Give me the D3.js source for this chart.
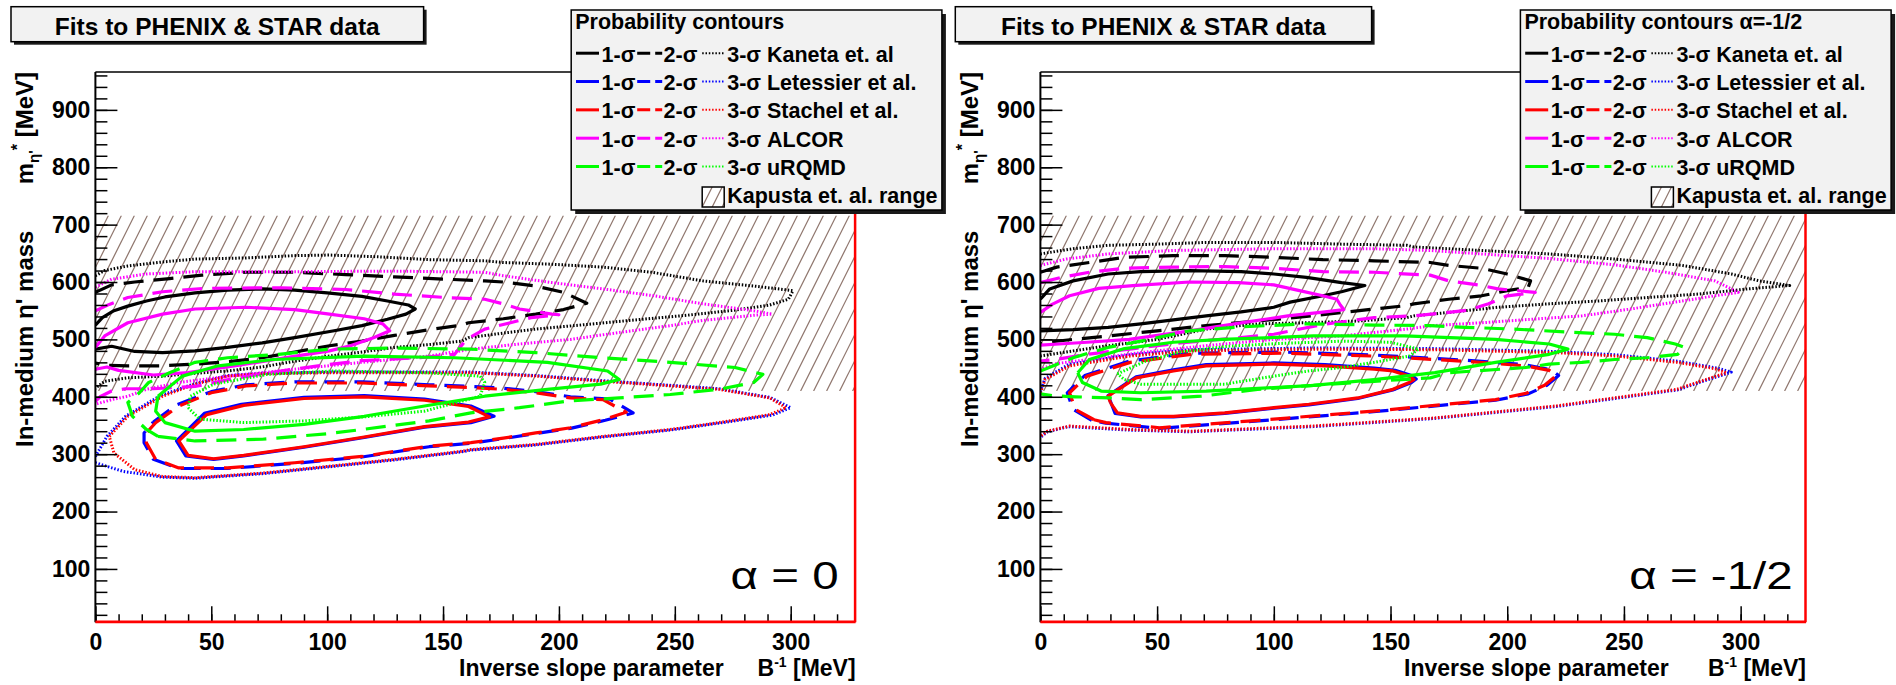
<!DOCTYPE html>
<html>
<head>
<meta charset="utf-8">
<script src="https://cdn.jsdelivr.net/npm/d3@7"></script>
<style>
  body { margin: 0; background: #fff; }
  text { font-family: "Liberation Sans", Arial, Helvetica, sans-serif; }
</style>
</head>
<body>
<svg id="chart" width="1896" height="685"></svg>
<script>
// ---- axes ----
const xDomain = [0, 328];
const yDomain = [7, 966];
const xMajorTicks = [0, 50, 100, 150, 200, 250, 300];
const xMinorTicks = d3.range(0, 330, 10);
const yMajorTicks = [100, 200, 300, 400, 500, 600, 700, 800, 900];
const yMinorTicks = d3.range(20, 966, 20);
const kapustaRange = [410, 716];

// ---- legend ----
const models = ["Kaneta et. al", "Letessier et al.", "Stachel et al.", "ALCOR", "uRQMD"];
const modelColors = ["#000000", "#0000ff", "#ff0000", "#ff00ff", "#00ff00"];
const sigmaLabels = ["1-σ", "2-σ", "3-σ"];

// ---- contours, alpha = 0 : points are [B^-1 (MeV), m* (MeV)] ----
const a0_kaneta_1s = [[0,525],[3,538],[8,550],[14,558],[22,567],[30,574],[43,581],[57,586],[72,588],[86,586],[100,581],[115,575],[126,567],[135,560],[138,553],[134,544],[126,535],[115,524],[103,515],[86,503],[72,494],[57,486],[43,480],[29,477],[17,479],[7,488],[0,483]];
const a0_kaneta_2s = [[0,582],[7,595],[17,600],[32,606],[46,612],[65,617],[86,617],[108,613],[129,609],[151,605],[168,602],[176,600],[190,593],[202,582],[212,563],[202,552],[190,544],[176,536],[161,529],[158,525],[144,517],[129,507],[115,497],[101,489],[86,478],[72,468],[57,461],[43,457],[29,454],[14,454],[4,455],[0,459]];
const a0_kaneta_3s = [[0,611],[4,620],[14,628],[29,635],[43,640],[65,642],[86,646],[101,647],[122,644],[144,639],[168,637],[176,634],[197,631],[219,626],[240,617],[262,602],[284,593],[301,585],[299,570],[291,560],[276,551],[255,542],[233,534],[212,526],[190,518],[176,511],[161,503],[158,497],[144,491],[129,486],[115,478],[101,471],[86,462],[72,452],[57,445],[43,441],[29,436],[14,433],[4,427],[0,415]];

const a0_letessier_1s = [[37,331],[47,371],[63,387],[90,399],[116,402],[142,396],[162,384],[172,366],[162,355],[142,347],[116,329],[90,312],[64,297],[51,291],[39,297],[35,323],[37,331]];
const a0_letessier_2s = [[25,356],[35,386],[50,409],[65,421],[86,426],[115,426],[144,421],[162,418],[176,415],[190,409],[205,400],[222,396],[232,372],[220,359],[205,345],[190,336],[176,327],[162,319],[144,313],[115,295],[86,284],[57,275],[36,275],[25,291],[21,320],[21,337],[25,356]];
const a0_letessier_3s = [[0,296],[5,331],[13,366],[28,402],[43,423],[57,437],[72,441],[101,443],[144,443],[162,443],[190,437],[219,428],[248,420],[269,414],[291,399],[300,381],[292,368],[269,354],[248,342],[219,330],[190,316],[162,307],[158,304],[129,290],[101,278],[72,266],[43,258],[29,260],[12,270],[4,280],[0,285]];

const a0_stachel_1s = [[37.5,329],[48,369],[64,385],[90,397],[116,400],[142,394],[161,383],[170,365],[161,356],[142,348],[116,330],[90,313],[64,298],[51,292],[40,298],[36,323],[37.5,329]];
const a0_stachel_2s = [[26,355],[36,384],[50,407],[65,419],[86,424],[115,424],[144,419],[162,416],[176,413],[190,407],[205,398],[219,395],[229,373],[219,360],[205,346],[190,337],[176,328],[162,320],[144,314],[115,296],[86,285],[57,276],[36,276],[26,291],[22,320],[22,337],[26,355]];
const a0_stachel_3s = [[6,331],[14,366],[29,401],[43,422],[57,436],[72,440],[101,442],[144,442],[162,442],[190,436],[219,427],[248,419],[269,413],[291,398],[298,381],[291,369],[269,355],[248,343],[219,331],[190,317],[162,308],[158,305],[129,291],[101,279],[72,267],[43,259],[29,261],[17,273],[8,302],[6,331]];

const a0_alcor_1s = [[0,486],[4,506],[14,529],[29,544],[43,553],[65,556],[86,552],[101,544],[116,536],[124,527],[127,515],[120,503],[110,489],[101,480],[85,470],[62,455],[40,442],[25,438],[10,446],[5,452],[0,448]];
const a0_alcor_2s = [[0,550],[6,561],[14,573],[29,583],[47,589],[80,590],[108,587],[129,579],[151,573],[168,570],[176,562],[183,553],[197,544],[200,543],[188,538],[182,532],[168,518],[160,500],[155,474],[140,468],[115,463],[100,456],[80,445],[60,432],[43,418],[25,414],[13,414],[7,410],[2,400],[0,392]];
const a0_alcor_3s = [[0,591],[7,605],[22,614],[43,618],[86,618],[129,619],[168,617],[176,611],[197,599],[219,588],[241,576],[262,562],[284,550],[292,544],[284,542],[262,533],[248,524],[226,512],[205,500],[183,492],[162,483],[144,471],[115,460],[86,448],[58,436],[36,425],[22,413],[14,401],[7,395],[0,387]];

const a0_urqmd_1s = [[27,401],[37.5,436],[53,454],[77,465],[116,471],[155,468],[195,460],[221,445],[226,430],[218,422],[195,413],[168,401],[142,384],[116,366],[90,352],[64,343],[43,340],[30,355],[26,375],[27,401]];
const a0_urqmd_2s = [[27,331],[22,343],[16,366],[14,390],[19,407],[23,425],[32,442],[43,460],[57,468],[79,474],[101,483],[129,485],[162,483],[190,477],[219,468],[248,460],[276,451],[288,439],[284,425],[269,413],[248,404],[226,398],[205,393],[183,381],[162,372],[144,358],[115,343],[101,336],[72,326],[43,323],[27,331]];
const a0_urqmd_3s = [[40,381],[45,361],[64,355],[90,358],[116,365],[142,375],[166,401],[168,425],[166,436],[142,442],[103,445],[74,439],[51,422],[41,401],[40,381]];

// ---- contours, alpha = -1/2 ----
const a1_kaneta_1s = [[0,570],[4,588],[14,602],[29,614],[43,618],[64,620],[86,618],[100,614],[114,608],[129,599],[139,594],[129,583],[121,576],[107,565],[100,556],[86,548],[71,541],[57,534],[43,527],[29,521],[14,517],[0,515]];
const a1_kaneta_2s = [[0,617],[7,626],[21,634],[36,643],[57,646],[79,646],[100,643],[121,639],[143,637],[167,634],[175,629],[189,624],[200,614],[210,602],[209,591],[200,585],[189,576],[175,570],[160,562],[157,559],[143,553],[114,540],[93,532],[71,524],[50,515],[29,506],[14,500],[3,495],[0,492]];
const a1_kaneta_3s = [[0,649],[14,658],[29,664],[50,666],[71,669],[100,669],[129,666],[157,664],[160,661],[189,655],[218,649],[246,640],[275,629],[296,614],[308,602],[321,594],[303,588],[282,579],[260,573],[239,567],[218,562],[196,556],[175,547],[160,541],[157,538],[136,532],[114,529],[93,527],[71,518],[50,500],[29,489],[14,480],[0,471]];

const a1_letessier_1s = [[30,392],[29,402],[41,435],[57,447],[71,456],[100,459],[122,456],[143,450],[152,446],[159,437],[161,431],[159,425],[151,412],[136,397],[115,386],[100,380],[79,371],[57,365],[43,365],[32,371],[30,392]];
const a1_letessier_2s = [[22,359],[14,378],[11.5,407],[19,437],[38,462],[64,476],[103,478],[142,473],[181,464],[207,456],[219,447],[222,437],[217,420],[209,405],[195,394],[142.6,374],[90.5,357],[51,345],[28,354],[22,359]];
const a1_letessier_3s = [[0,409],[2,432],[12,456],[38,473],[64,482],[116,485],[168,484],[220,479],[247,473],[273,462],[290,450],[296,443],[286,430],[273,412],[221,383],[168,362],[117,348],[64,339],[38,342],[12,348],[3,339],[0,329]];

const a1_stachel_1s = [[30,390],[29,401],[41,433],[57,445],[71,454],[100,457],[122,454],[143,448],[151,445],[158,436],[160,430],[158,425],[151,413],[136,398],[115,387],[100,381],[79,372],[57,366],[43,366],[33,372],[30,390]];
const a1_stachel_2s = [[23,360],[15,378],[12.5,407],[20,436],[38.5,460],[64.5,474],[103.5,476],[142.6,471],[181.6,462],[207.7,454],[218,446],[221,437],[216,420],[208,406],[195,395],[142.6,375],[90.5,358],[51.1,346],[28.1,355],[23,360]];
const a1_stachel_3s = [[0,407],[2,430],[12.5,454],[38.5,471],[64.5,480],[116.6,483],[168.6,482],[220.7,477],[246.7,471],[272.7,460],[289,449],[294,442],[285,430],[272.7,413],[220.7,384],[168.6,363],[116.6,349],[64.5,340],[38.5,343],[12.5,349],[3,340],[0,331]];

const a1_alcor_1s = [[0,547],[5,561],[12.5,576],[25,589],[41,594],[64,600],[85,599],[100,595],[111,585],[121,576],[127,570],[128.5,560],[130,552],[122,548],[106,541],[88,530],[64,515],[38,500],[20,495],[8,492],[0,490]];
const a1_alcor_2s = [[0,599],[9,608],[21,617],[36,624],[57,626],[79,627],[100,624],[121,618],[143,617],[167,612],[175,602],[189,594],[196,588],[212,582],[200,576],[192,562],[183,551],[170,545],[160,541],[143,538],[121,526],[100,509],[80,501],[60,494],[40,484],[20,474],[8,466],[0,462]];
const a1_alcor_3s = [[0,629],[11,640],[29,649],[57,655],[100,658],[143,658],[167,655],[189,649],[218,641],[246,630],[268,617],[289,602],[299,582],[289,576],[275,567],[253,553],[232,541],[210,535],[189,529],[168,524],[157,518],[129,506],[100,500],[71,489],[43,477],[21,465],[7,458],[0,448]];

const a1_urqmd_1s = [[16,442],[21,465],[36,484],[57,495],[78,500],[117,506],[156,506],[195,500],[218,492],[226,483],[218,474],[195,460],[169,442],[143,430],[117,420],[100,416],[71,410],[43,407],[26,410],[18,425],[16,442]];
const a1_urqmd_2s = [[0,445],[14,468],[29,486],[43,497],[64,515],[86,522],[114,527],[143,525],[167,524],[182,521],[203,518],[225,513],[246,509],[260,503],[272,492],[276,486],[273,474],[260,468],[246,465],[232,460],[218,457],[208,451],[175,442],[167,433],[143,427],[114,419],[93,413],[69,401],[43,395],[30,398],[15,400],[5,402],[0,405]];
const a1_urqmd_3s = [[33,440],[45,462],[60,478],[80,488],[103,493],[130,497],[150,495],[162,483],[158,471],[143,460],[129,451],[115,445],[100,436],[79,422],[43,422],[36,430],[33,440]];

// ---- layout of the two pads ----
const yBottomPx = 622.3, yTopPx = 72;
const panels = [
  {
    x0: 95.4, x1: 855.6,
    titleBox: [11, 6.7, 412.6, 35],
    legendX: 571.2, legendW: 370.7,
    header: "Probability contours",
    alphaText: "α = 0", alphaEnd: 838.6,
    contours: [
      [a0_kaneta_1s, a0_kaneta_2s, a0_kaneta_3s],
      [a0_letessier_1s, a0_letessier_2s, a0_letessier_3s],
      [a0_stachel_1s, a0_stachel_2s, a0_stachel_3s],
      [a0_alcor_1s, a0_alcor_2s, a0_alcor_3s],
      [a0_urqmd_1s, a0_urqmd_2s, a0_urqmd_3s]
    ]
  },
  {
    x0: 1040.4, x1: 1806,
    titleBox: [955.3, 6.7, 416.3, 35],
    legendX: 1520.4, legendW: 370.7,
    header: "Probability contours α=-1/2",
    alphaText: "α = -1/2", alphaEnd: 1792.7,
    contours: [
      [a1_kaneta_1s, a1_kaneta_2s, a1_kaneta_3s],
      [a1_letessier_1s, a1_letessier_2s, a1_letessier_3s],
      [a1_stachel_1s, a1_stachel_2s, a1_stachel_3s],
      [a1_alcor_1s, a1_alcor_2s, a1_alcor_3s],
      [a1_urqmd_1s, a1_urqmd_2s, a1_urqmd_3s]
    ]
  }
];

const sigmaWidth = [3.2, 3.2, 3];
const sigmaDash = [null, "20,10", "1.5,1.8"];
const hatchColor = "#8f766d";

const svg = d3.select("#chart");
const defs = svg.append("defs");

function hatchLines(g, left, right, top, bottom, step) {
  const run = (bottom - top) / 2;
  for (let sx = left - run - step; sx < right + step; sx += step) {
    g.append("line")
      .attr("x1", sx).attr("y1", bottom)
      .attr("x2", sx + run).attr("y2", top)
      .attr("stroke", hatchColor).attr("stroke-width", 1.2);
  }
}

function drawPanel(p, idx) {
  const x = d3.scaleLinear().domain(xDomain).range([p.x0, p.x1]);
  const y = d3.scaleLinear().domain(yDomain).range([yBottomPx, yTopPx]);
  const g = svg.append("g");

  // Kapusta et al. band
  const hTop = y(kapustaRange[1]), hBot = y(kapustaRange[0]);
  defs.append("clipPath").attr("id", "band" + idx)
    .append("rect").attr("x", p.x0).attr("y", hTop)
    .attr("width", p.x1 - p.x0).attr("height", hBot - hTop);
  const hg = g.append("g").attr("clip-path", `url(#band${idx})`);
  hatchLines(hg, p.x0, p.x1, hTop, hBot, 13);

  // probability contours
  defs.append("clipPath").attr("id", "frame" + idx)
    .append("rect").attr("x", p.x0).attr("y", yTopPx)
    .attr("width", p.x1 - p.x0).attr("height", yBottomPx - yTopPx);
  const cg = g.append("g").attr("clip-path", `url(#frame${idx})`);
  const line = d3.line().x(d => x(d[0])).y(d => y(d[1]));
  p.contours.forEach((set, m) => {
    [2, 1, 0].forEach(s => {
      cg.append("path")
        .attr("d", line(set[s]))
        .attr("fill", "none")
        .attr("stroke", modelColors[m])
        .attr("stroke-width", sigmaWidth[s])
        .attr("stroke-dasharray", sigmaDash[s])
        .attr("stroke-linejoin", "round");
    });
  });

  // frame
  g.append("line").attr("x1", p.x0).attr("x2", p.x1).attr("y1", yTopPx).attr("y2", yTopPx)
    .attr("stroke", "#000").attr("stroke-width", 1.5);
  g.append("line").attr("x1", p.x1 - 0.5).attr("x2", p.x1 - 0.5).attr("y1", yTopPx).attr("y2", yBottomPx)
    .attr("stroke", "#ff0000").attr("stroke-width", 2.5);

  // axes
  const tickStyle = sel => {
    sel.select(".domain").remove();
    sel.selectAll(".tick line").attr("stroke", "#000").attr("stroke-width", 1.5);
    sel.selectAll("text").attr("font-size", 23).attr("font-weight", "bold")
      .attr("fill", "#000").attr("font-family", "Liberation Sans, Arial, sans-serif");
  };
  g.append("g").attr("transform", `translate(${p.x0},0)`)
    .call(d3.axisLeft(y).tickValues(yMinorTicks).tickSize(-12).tickFormat(""))
    .call(tickStyle);
  g.append("g").attr("transform", `translate(${p.x0},0)`)
    .call(d3.axisLeft(y).tickValues(yMajorTicks).tickSize(-22).tickPadding(5).tickFormat(d3.format("d")))
    .call(tickStyle);
  g.append("g").attr("transform", `translate(0,${yBottomPx})`)
    .call(d3.axisBottom(x).tickValues(xMinorTicks).tickSize(-8).tickFormat(""))
    .call(tickStyle);
  g.append("g").attr("transform", `translate(0,${yBottomPx})`)
    .call(d3.axisBottom(x).tickValues(xMajorTicks).tickSize(-16).tickPadding(11.4).tickFormat(d3.format("d")))
    .call(tickStyle);

  g.append("line").attr("x1", p.x0).attr("x2", p.x0).attr("y1", yTopPx).attr("y2", yBottomPx)
    .attr("stroke", "#000").attr("stroke-width", 2);
  g.append("line").attr("x1", p.x0).attr("x2", p.x1).attr("y1", yBottomPx - 0.5).attr("y2", yBottomPx - 0.5)
    .attr("stroke", "#ff0000").attr("stroke-width", 2.8);

  // axis titles
  g.append("text")
    .attr("transform", `translate(${p.x0 - 62},447) rotate(-90)`)
    .attr("font-size", 24).attr("font-weight", "bold").attr("text-anchor", "start")
    .text("In-medium η' mass");
  const yt2 = g.append("text")
    .attr("transform", `translate(${p.x0 - 62},${yTopPx}) rotate(-90)`)
    .attr("font-size", 24).attr("font-weight", "bold").attr("text-anchor", "end");
  yt2.append("tspan").text("m");
  yt2.append("tspan").attr("font-size", 15).attr("dy", 6).text("η'");
  yt2.append("tspan").attr("font-size", 16).attr("dy", -16).text("*");
  yt2.append("tspan").attr("dy", 10).text(" [MeV]");

  g.append("text").attr("x", p.x0 + 363.6).attr("y", 676)
    .attr("font-size", 23).attr("font-weight", "bold")
    .text("Inverse slope parameter");
  const xt2 = g.append("text").attr("x", p.x1).attr("y", 676)
    .attr("font-size", 23).attr("font-weight", "bold").attr("text-anchor", "end");
  xt2.append("tspan").text("B");
  xt2.append("tspan").attr("font-size", 14).attr("dy", -9).text("-1");
  xt2.append("tspan").attr("dy", 9).text(" [MeV]");

  // alpha value (wide glyphs)
  g.append("text")
    .attr("transform", `translate(${p.alphaEnd},589) scale(1.25,1)`)
    .attr("text-anchor", "end").attr("font-size", 38)
    .text(p.alphaText);

  // title box
  const [tx, ty, tw, th] = p.titleBox;
  g.append("rect").attr("x", tx + 3).attr("y", ty + 3).attr("width", tw).attr("height", th).attr("fill", "#1a1a1a");
  g.append("rect").attr("x", tx).attr("y", ty).attr("width", tw).attr("height", th)
    .attr("fill", "#f2f2f2").attr("stroke", "#000").attr("stroke-width", 1.5);
  g.append("text").attr("x", tx + tw / 2).attr("y", ty + 28.5)
    .attr("text-anchor", "middle").attr("font-size", 24.5).attr("font-weight", "bold")
    .text("Fits to PHENIX & STAR data");

  // legend
  const lx = p.legendX, ly = 10, lw = p.legendW, lh = 200;
  const lg = svg.append("g");
  lg.append("rect").attr("x", lx + 4).attr("y", ly + 4).attr("width", lw).attr("height", lh).attr("fill", "#1a1a1a");
  lg.append("rect").attr("x", lx).attr("y", ly).attr("width", lw).attr("height", lh)
    .attr("fill", "#f2f2f2").attr("stroke", "#000").attr("stroke-width", 1.5);
  lg.append("text").attr("x", lx + 4).attr("y", 28.5)
    .attr("font-size", 21.5).attr("font-weight", "bold").text(p.header);
  models.forEach((name, i) => {
    const base = 61.7 + i * 28.33, ym = base - 8.5;
    const segs = [[4.8, 27.8], [66, 91], [131, 153]];
    segs.forEach((sg, s) => {
      lg.append("line").attr("x1", lx + sg[0]).attr("x2", lx + sg[1]).attr("y1", ym).attr("y2", ym)
        .attr("stroke", modelColors[i])
        .attr("stroke-width", s === 2 ? 2 : 3)
        .attr("stroke-dasharray", s === 1 ? "13,5" : (s === 2 ? "1.5,1.8" : null));
    });
    const tx0 = [30.4, 92.4, 156];
    lg.append("text").attr("x", lx + tx0[0]).attr("y", base).attr("font-size", 21.5).attr("font-weight", "bold").text(sigmaLabels[0]);
    lg.append("text").attr("x", lx + tx0[1]).attr("y", base).attr("font-size", 21.5).attr("font-weight", "bold").text(sigmaLabels[1]);
    lg.append("text").attr("x", lx + tx0[2]).attr("y", base).attr("font-size", 21.5).attr("font-weight", "bold").text(sigmaLabels[2] + " " + name);
  });
  // Kapusta entry
  const kb = [lx + 131, 187, 22, 20];
  defs.append("clipPath").attr("id", "kbox" + idx)
    .append("rect").attr("x", kb[0]).attr("y", kb[1]).attr("width", kb[2]).attr("height", kb[3]);
  lg.append("rect").attr("x", kb[0]).attr("y", kb[1]).attr("width", kb[2]).attr("height", kb[3]).attr("fill", "#fff");
  const kg = lg.append("g").attr("clip-path", `url(#kbox${idx})`);
  hatchLines(kg, kb[0], kb[0] + kb[2], kb[1], kb[1] + kb[3], 10);
  lg.append("rect").attr("x", kb[0]).attr("y", kb[1]).attr("width", kb[2]).attr("height", kb[3])
    .attr("fill", "none").attr("stroke", "#000").attr("stroke-width", 1.5);
  lg.append("text").attr("x", lx + 156).attr("y", 203.3).attr("font-size", 21.5).attr("font-weight", "bold")
    .text("Kapusta et. al. range");
}

panels.forEach(drawPanel);
</script>
</body>
</html>
